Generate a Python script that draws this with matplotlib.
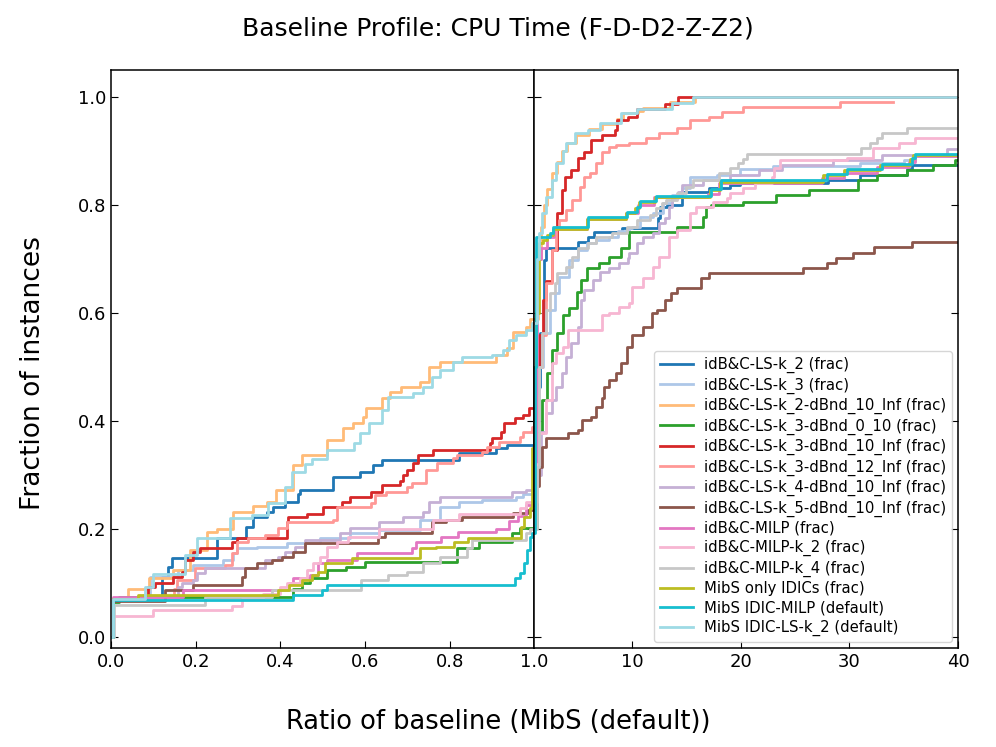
import matplotlib
matplotlib.use('Agg')
import matplotlib.pyplot as plt

# series names and colours (tab20 subset)
names = [
    'idB&C-LS-k_2 (frac)',
    'idB&C-LS-k_3 (frac)',
    'idB&C-LS-k_2-dBnd_10_Inf (frac)',
    'idB&C-LS-k_3-dBnd_0_10 (frac)',
    'idB&C-LS-k_3-dBnd_10_Inf (frac)',
    'idB&C-LS-k_3-dBnd_12_Inf (frac)',
    'idB&C-LS-k_4-dBnd_10_Inf (frac)',
    'idB&C-LS-k_5-dBnd_10_Inf (frac)',
    'idB&C-MILP (frac)',
    'idB&C-MILP-k_2 (frac)',
    'idB&C-MILP-k_4 (frac)',
    'MibS only IDICs (frac)',
    'MibS IDIC-MILP (default)',
    'MibS IDIC-LS-k_2 (default)',
]
colors = ['#1f77b4', '#aec7e8', '#ffbb78', '#2ca02c', '#d62728', '#ff9896', '#c5b0d5',
          '#8c564b', '#e377c2', '#f7b6d2', '#c7c7c7', '#bcbd22', '#17becf', '#9edae5']

# left panel: ratio in [0, 1]
left_x = [
    [0, .004, .12, .134, .144, .25, .30, .32, .335, .368, .382, .41, .441, .446, .524, .587, .618, .64, .823, .91, .934],
    [0, .004, .092, .158, .193, .264, .288, .297, .344, .415, .493, .564, .634, .729, .776, .823, .877, .957, .974],
    [0, .004, .04, .09, .146, .186, .226, .25, .288, .335, .368, .39, .43, .45, .51, .548, .571, .594, .603, .64, .658, .686, .729, .752, .776, .91, .934, .95, .98, .99],
    [0, .004, .02, .43, .45, .47, .51, .556, .6, .816, .87, .948, .965],
    [0, .004, .087, .104, .146, .167, .175, .193, .21, .285, .297, .415, .418, .462, .5, .545, .564, .615, .64, .682, .689, .70, .713, .724, .76, .894, .90, .922, .929, .953, .972, .988],
    [0, .004, .15, .156, .198, .27, .285, .297, .323, .363, .394, .415, .524, .533, .615, .623, .65, .70, .71, .745, .771, .807, .816, .875, .887, .917, .965, .972, .995],
    [0, .004, .158, .167, .193, .203, .222, .363, .394, .41, .434, .458, .54, .564, .634, .689, .736, .752, .776, .948, .98],
    [0, .004, .127, .193, .31, .316, .344, .38, .403, .43, .458, .63, .646, .757, .792, .83, .95, .985],
    [0, .004, .17, .42, .43, .47, .49, .51, .58, .71, .72, .78, .82, .91, .94, .96, .98],
    [0, .004, .1, .285, .31, .36, .4, .415, .446, .462, .477, .493, .51, .533, .56, .634, .76, .823, .965, .98],
    [0, .008, .222, .38, .59, .654, .70, .736, .776, .84, .853, .98, .99],
    [0, .004, .064, .394, .42, .45, .474, .49, .505, .57, .729, .768, .81, .842, .969, .976, .99, .995, .998],
    [0, .004, .43, .498, .51, .953, .965, .976, .983, .99, .995],
    [0, .004, .08, .10, .175, .203, .28, .333, .37, .41, .427, .458, .474, .51, .575, .587, .61, .64, .654, .713, .736, .757, .776, .807, .828, .90, .925, .94, .957, .98, .995],
]
left_y = [
    [0, .07, .111, .13, .146, .183, .183, .204, .222, .231, .241, .25, .266, .272, .296, .306, .318, .328, .341, .35, .355],
    [0, .07, .111, .124, .133, .143, .155, .165, .167, .174, .183, .192, .198, .217, .241, .25, .254, .259, .265],
    [0, .07, .089, .11, .124, .161, .194, .20, .231, .243, .25, .272, .318, .337, .365, .387, .396, .407, .424, .443, .454, .463, .472, .50, .509, .522, .535, .565, .574, .589],
    [0, .065, .075, .09, .10, .11, .124, .13, .139, .165, .176, .192, .203],
    [0, .07, .093, .10, .111, .12, .143, .157, .165, .176, .183, .213, .222, .229, .241, .25, .259, .269, .281, .29, .30, .309, .322, .337, .346, .359, .368, .38, .396, .405, .411, .425],
    [0, .07, .09, .105, .128, .133, .155, .176, .183, .189, .202, .213, .217, .241, .248, .263, .269, .278, .285, .309, .322, .331, .337, .343, .352, .361, .37, .38, .389],
    [0, .07, .093, .10, .105, .118, .128, .143, .148, .157, .167, .18, .192, .202, .213, .222, .231, .25, .259, .269, .272],
    [0, .067, .087, .096, .111, .128, .137, .143, .148, .157, .174, .185, .192, .213, .217, .222, .23, .235],
    [0, .075, .087, .10, .109, .115, .137, .143, .155, .165, .176, .185, .194, .20, .215, .225, .245],
    [0, .04, .05, .058, .07, .08, .093, .10, .11, .124, .137, .148, .167, .176, .185, .20, .217, .229, .239, .25],
    [0, .06, .075, .087, .105, .115, .12, .137, .148, .165, .18, .192, .20],
    [0, .07, .078, .087, .096, .105, .115, .12, .137, .146, .165, .167, .176, .183, .204, .222, .24, .35, .50],
    [0, .068, .078, .087, .096, .109, .118, .137, .161, .185, .193],
    [0, .07, .093, .117, .152, .183, .22, .226, .248, .278, .305, .32, .33, .346, .359, .378, .396, .42, .444, .452, .463, .481, .494, .509, .519, .522, .531, .55, .559, .569, .581],
]

# right panel: ratio in [1, 40]
right_x = [
    [1, 1.28, 1.55, 1.9, 2.1, 5.0, 5.9, 6.5, 9.1, 12.4, 12.6, 13.2, 14.6, 17.1, 19.0, 19.9, 28, 31, 35.3, 35.8],
    [1, 1.2, 1.46, 1.75, 2.4, 2.85, 3.3, 4.2, 5.0, 5.8, 6.7, 7.9, 8.65, 9.75, 10.0, 10.7, 11.9, 12.8, 13.7, 14.6, 15.3, 17.8, 19.9, 23, 31, 35, 36],
    [1, 1.3, 1.6, 1.9, 2.2, 2.6, 3.1, 3.5, 4.0, 4.8, 6.0, 7.2, 8.6, 9.2, 10.5, 11, 13.5, 15.8],
    [1, 1.2, 1.46, 1.74, 2.2, 2.66, 3.1, 3.6, 4.2, 4.9, 5.3, 5.8, 6.9, 7.9, 9.0, 9.7, 14.1, 16.5, 16.8, 17.3, 20.2, 23.2, 26.3, 30.8, 32.5, 35.3, 37.7, 39.7],
    [1, 1.2, 1.46, 1.8, 2.1, 2.66, 3.1, 3.5, 3.8, 4.4, 5.0, 5.6, 6.25, 7.2, 8.4, 8.6, 9.6, 10.4, 13.0, 14.2],
    [1, 1.3, 1.65, 2.1, 2.57, 3.0, 3.3, 3.95, 4.5, 5.15, 5.6, 6.1, 6.7, 7.2, 7.9, 8.5, 9.75, 11.3, 12.5, 14.1, 15.3, 17.1, 18.3, 20.2, 29.1],
    [1, 1.2, 1.6, 2.1, 2.57, 3.0, 3.5, 3.95, 4.4, 5.0, 5.3, 5.6, 6.35, 7.0, 7.9, 8.8, 9.6, 9.75, 10.4, 11.0, 11.9, 12.5, 13, 13.4, 13.7, 14.2, 14.6, 16.5, 19, 21.7, 23.8, 28.5, 33, 39],
    [1, 1.2, 1.46, 1.74, 2.1, 4.05, 5, 5.4, 6.25, 6.7, 7.2, 7.45, 7.9, 8.55, 9.0, 9.5, 10.0, 11.0, 11.8, 12.3, 13, 13.6, 14.1, 16.3, 17.1, 25.7, 27.9, 28.8, 30.3, 32.3, 35.8],
    [1, 1.1, 1.2, 1.35, 1.6, 2.2, 2.8, 5.8, 9.4, 10.5, 12, 17, 18, 27.5, 29.5, 32.5, 35.5, 36],
    [1, 1.2, 1.46, 2.1, 2.57, 3.0, 3.6, 4.05, 7.2, 7.9, 8.8, 9.75, 10, 11, 11.9, 12.5, 13.4, 14.1, 15.3, 15.9, 17.4, 18.7, 19, 20.2, 21.3, 22.9, 23.1, 23.6, 29.8, 32.2, 34.6, 36],
    [1, 1.28, 1.46, 1.74, 2.1, 2.4, 2.85, 3.1, 3.95, 4.5, 5.0, 5.9, 6.7, 8.1, 9.5, 10.4, 11.6, 12.2, 12.7, 13.1, 14.1, 15, 15.6, 18, 19, 19.7, 20.2, 20.6, 31.1, 31.9, 32.5, 33, 35.3],
    [1, 1.18, 1.46, 1.75, 2.2, 2.7, 5.8, 9.4, 10.3, 10.6, 12.1, 17.2, 18.1, 27.6, 29.5, 32.8, 35.6, 35.9],
    [1, 1.05, 1.1, 1.15, 2.4, 2.7, 5.9, 9.5, 10.4, 10.7, 12.2, 17.3, 18.2, 27.9, 29.8, 33, 35.8, 36],
    [1, 1.2, 1.46, 1.74, 2.1, 2.57, 3.0, 3.6, 3.9, 4.7, 5.9, 7.0, 9.0, 10.4, 13.7, 15.6],
]
right_y = [
    [.355, .463, .563, .698, .72, .731, .741, .75, .757, .776, .796, .80, .824, .831, .837, .841, .846, .856, .867, .874],
    [.265, .40, .50, .563, .605, .637, .667, .698, .717, .729, .735, .741, .752, .757, .76, .778, .785, .804, .818, .831, .852, .856, .867, .872, .878, .883, .89],
    [.589, .70, .76, .80, .83, .86, .88, .90, .915, .93, .94, .95, .96, .97, .975, .98, .99, 1.0],
    [.203, .30, .378, .439, .489, .531, .563, .596, .609, .639, .661, .683, .693, .704, .72, .75, .76, .778, .796, .80, .806, .818, .828, .846, .856, .865, .874, .883],
    [.425, .50, .56, .624, .66, .717, .785, .828, .852, .865, .887, .898, .92, .93, .939, .957, .963, .978, .987, 1.0],
    [.389, .50, .56, .655, .717, .76, .772, .79, .81, .833, .852, .859, .878, .898, .907, .911, .915, .924, .933, .943, .957, .963, .972, .981, .991],
    [.272, .30, .38, .415, .439, .463, .489, .519, .544, .574, .624, .643, .661, .676, .683, .693, .702, .711, .729, .741, .748, .767, .776, .796, .813, .824, .837, .846, .856, .865, .874, .883, .892, .904],
    [.235, .28, .315, .352, .368, .378, .383, .402, .407, .426, .443, .463, .476, .489, .507, .537, .559, .574, .60, .606, .624, .637, .646, .665, .674, .683, .693, .702, .711, .722, .731],
    [.245, .45, .60, .70, .72, .74, .755, .775, .785, .80, .815, .82, .84, .85, .86, .87, .88, .89],
    [.25, .32, .378, .439, .507, .526, .537, .569, .596, .60, .611, .619, .648, .665, .685, .704, .741, .754, .785, .796, .806, .813, .822, .831, .841, .852, .868, .883, .887, .906, .915, .924],
    [.20, .315, .50, .563, .605, .637, .655, .674, .685, .704, .72, .729, .741, .748, .76, .772, .781, .794, .804, .809, .822, .833, .846, .859, .869, .878, .885, .894, .906, .915, .924, .933, .943],
    [.50, .60, .73, .735, .745, .755, .775, .785, .795, .805, .815, .828, .843, .855, .865, .874, .885, .892],
    [.193, .50, .70, .741, .748, .76, .778, .788, .797, .807, .817, .83, .846, .857, .867, .876, .887, .894],
    [.581, .70, .748, .785, .815, .846, .878, .90, .915, .933, .939, .952, .97, .978, .989, 1.0],
]

fig, (ax1, ax2) = plt.subplots(1, 2, sharey=True, figsize=(9.96, 7.47), dpi=100,
                               gridspec_kw={'wspace': 0})
fig.subplots_adjust(left=0.1114, right=0.9618, top=0.9063, bottom=0.1325)

for i in range(len(names)):
    lx = left_x[i] + [1.0]
    ly = left_y[i] + [left_y[i][-1]]
    ax1.step(lx, ly, where='post', color=colors[i], lw=2)
    rx = right_x[i] + [40]
    ry = right_y[i] + [right_y[i][-1]]
    # light red curve stops before the end
    if i == 5:
        rx = right_x[i] + [34]
    ax2.step(rx, ry, where='post', color=colors[i], lw=2, label=names[i])

ax1.set_xlim(0, 1)
ax2.set_xlim(1, 40)
ax1.set_ylim(-0.02, 1.05)
ax1.set_xticks([0, .2, .4, .6, .8, 1.0])
ax2.set_xticks([10, 20, 30, 40])
ax1.set_yticks([0, .2, .4, .6, .8, 1.0])
for ax in (ax1, ax2):
    ax.tick_params(direction='in', left=True, right=True, length=5, labelsize=13)
    for s in ax.spines.values():
        s.set_linewidth(1.1)
ax2.tick_params(labelleft=False)

ax2.legend(loc='lower right', fontsize=10.7, framealpha=0.8, handlelength=2.2,
           labelspacing=0.29, handletextpad=0.75, borderaxespad=0.4)

fig.text(0.5, 0.962, 'Baseline Profile: CPU Time (F-D-D2-Z-Z2)', ha='center', va='center', fontsize=18)
fig.text(0.5, 0.033, 'Ratio of baseline (MibS (default))', ha='center', va='center', fontsize=18.5)
fig.text(0.033, 0.5, 'Fraction of instances', ha='center', va='center', rotation=90, fontsize=19)

fig.savefig('out.png', dpi=100)
